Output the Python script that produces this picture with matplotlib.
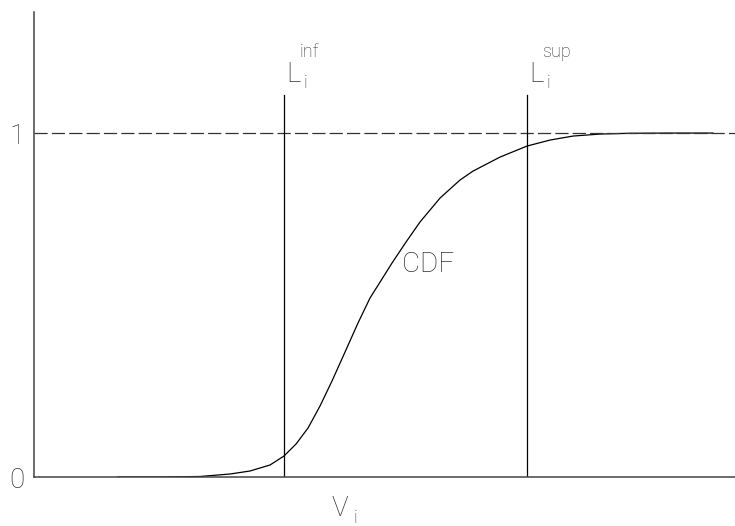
import matplotlib.pyplot as plt

# cumulative distribution read along the V axis (0..10 units)
v = [1.198, 1.797, 2.368, 2.796, 3.081, 3.367, 3.566, 3.738, 3.909, 4.080,
     4.251, 4.437, 4.622, 4.793, 4.964, 5.107, 5.307, 5.506, 5.792, 6.077,
     6.263, 6.648, 7.033, 7.361, 7.689, 8.074, 8.502, 9.073, 9.686]
cdf = [0.0, 0.0, 0.0015, 0.0087, 0.0174, 0.0349, 0.0610, 0.0959, 0.1424, 0.2064,
       0.2791, 0.3634, 0.4477, 0.5203, 0.5756, 0.6221, 0.6831, 0.7413, 0.8110,
       0.8634, 0.8895, 0.9302, 0.9622, 0.9797, 0.9913, 0.9971, 0.9994, 1.0, 1.0]

l_inf = 3.57
l_sup = 7.03
limit_top = 1.11
y_ticks = [0, 1]
y_labels = ["0", "1"]

plt.rcParams['font.family'] = ['Roboto', 'DejaVu Sans']
plt.rcParams['lines.scale_dashes'] = False
txt = dict(color='#333333', fontweight='light', fontstretch='condensed')

fig = plt.figure(figsize=(7.35, 5.26), dpi=100)
ax = fig.add_axes([34 / 735, 1 - 477 / 526, 701 / 735, 465 / 526])
ax.set_xlim(0, 10)
ax.set_ylim(0, 1.352)

ax.plot(v, cdf, color='black', lw=0.9)
ax.plot([0, 10], [1, 1], color='#333333', lw=0.9, dashes=(9.5, 3.0))
ax.plot([l_inf, l_inf], [0, limit_top], color='black', lw=0.9)
ax.plot([l_sup, l_sup], [0, limit_top], color='black', lw=0.9)

for side in ['top', 'right']:
    ax.spines[side].set_visible(False)
for side in ['left', 'bottom']:
    ax.spines[side].set_color('#444444')
    ax.spines[side].set_linewidth(1.1)

ax.set_xticks([])
ax.set_yticks(y_ticks)
ax.set_yticklabels(y_labels, fontsize=20, **txt)
ax.tick_params(axis='y', length=0, pad=7)

# labels
ax.text(5.25, 0.619, "CDF", fontsize=20, va='center', ha='left', **txt)
ax.text(4.37, -0.093, "V", fontsize=20, va='center', ha='center', clip_on=False, **txt)
ax.text(4.58, -0.118, "i", fontsize=13, va='center', ha='center', clip_on=False, **txt)

for x0, sup in [(l_inf, "inf"), (l_sup, "sup")]:
    ax.text(x0 + 0.03, 1.148, "L", fontsize=20, va='baseline', ha='left', **txt)
    ax.text(x0 + 0.22, 1.222, sup, fontsize=13, va='baseline', ha='left', **txt)
    ax.text(x0 + 0.28, 1.131, "i", fontsize=13, va='baseline', ha='left', **txt)

fig.savefig("out.png", dpi=100)
